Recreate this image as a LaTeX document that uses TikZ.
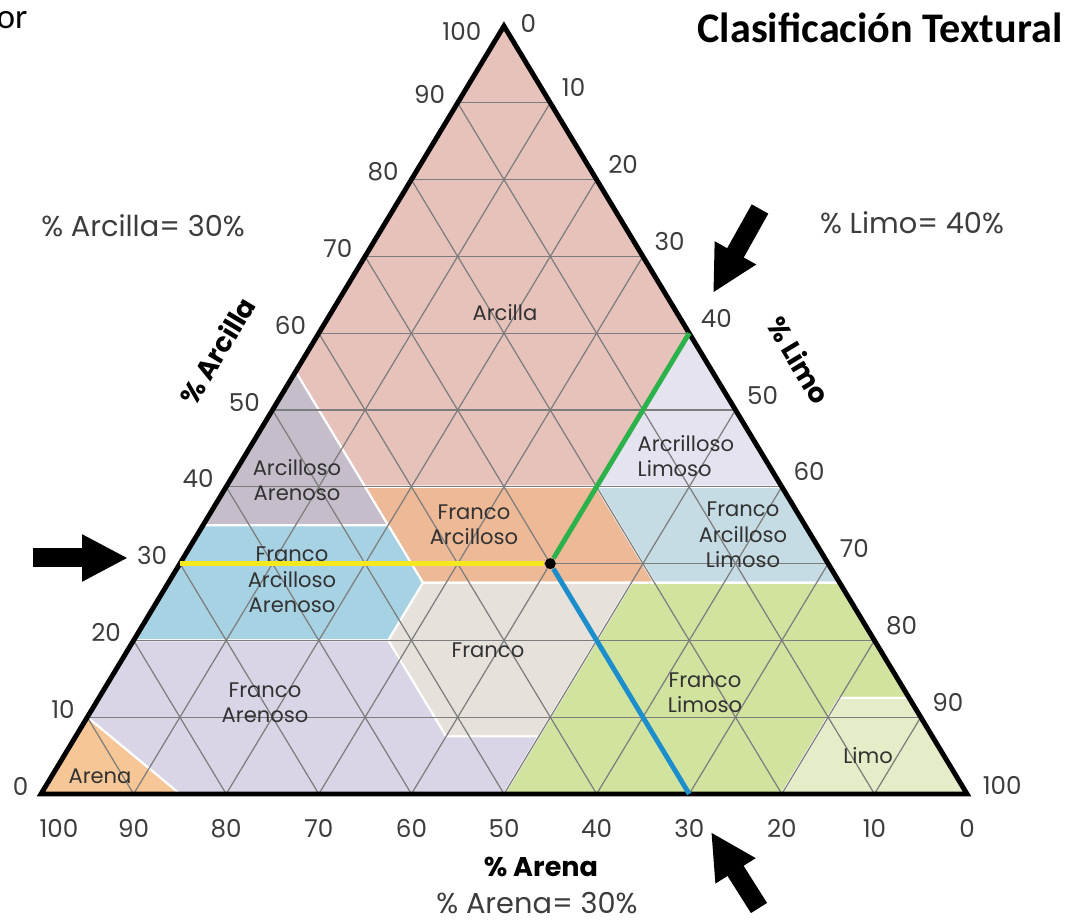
\documentclass[tikz,border=0pt]{standalone}
\usepackage{fontspec}
\setmainfont{Poppins}
\newfontfamily\calibfont{Carlito}
\usetikzlibrary{positioning, calc, arrows.meta}

\definecolor{cArcilla}{RGB}{231,194,186}
\definecolor{cArcAren}{RGB}{198,189,202}
\definecolor{cArcLimo}{RGB}{230,227,241}
\definecolor{cFraArc}{RGB}{237,185,150}
\definecolor{cFraArcAren}{RGB}{166,210,227}
\definecolor{cFraArcLimo}{RGB}{198,220,228}
\definecolor{cFranco}{RGB}{230,225,219}
\definecolor{cFraAren}{RGB}{217,213,231}
\definecolor{cFraLimo}{RGB}{210,227,160}
\definecolor{cLimo}{RGB}{228,236,200}
\definecolor{cArena}{RGB}{246,198,150}
\definecolor{gridgray}{RGB}{125,125,125}
\definecolor{tickgray}{RGB}{60,60,60}
\definecolor{labelgray}{RGB}{50,50,50}
\definecolor{lineyellow}{RGB}{246,232,30}
\definecolor{linegreen}{RGB}{44,178,74}
\definecolor{lineblue}{RGB}{28,142,203}

\begin{document}
\begin{tikzpicture}[
  tick/.style={font=\fontsize{7}{8}\selectfont, text=tickgray, inner sep=0pt},
  axistitle/.style={font=\bfseries\fontsize{7.7}{8}\selectfont, inner sep=0pt},
  note/.style={font=\fontsize{8.2}{9}\selectfont, text=tickgray, inner sep=0pt},
  zone/.style={draw=white, line width=0.6pt},
  zonelabel/.style={font=\fontsize{6}{7.2}\selectfont, text=labelgray, align=center, inner sep=0pt},
  gridline/.style={draw=gridgray, line width=0.35pt},
  edge/.style={line width=1.4pt, line join=miter},
  readline/.style={line width=1.4pt},
  bigarrow/.style={line width=0.19cm, -{Triangle[length=0.46cm,width=0.44cm]}},
  dot/.style={circle, fill=black, inner sep=0pt, minimum size=0.11cm}
]
\useasboundingbox (0,0) rectangle (10.68,9.21);

% triangle: (silt, clay) in percent
\begin{scope}[shift={(0.41,1.27)}, x={(0.0926cm,0cm)}, y={(0.0463cm,0.0768cm)}]
% zones
\filldraw[zone, fill=cArcilla] (0,100) -- (0,55) -- (15,40) -- (40,40) -- (40,60) -- cycle;
\filldraw[zone, fill=cArcLimo] (40,60) -- (40,40) -- (60,40) -- cycle;
\filldraw[zone, fill=cArcAren] (0,55) -- (0,35) -- (20,35) -- cycle;
\filldraw[zone, fill=cFraArc] (15,40) -- (40,40) -- (52.5,27.5) -- (27.5,27.5) -- cycle;
\filldraw[zone, fill=cFraArcLimo] (40,40) -- (60,40) -- (72.5,27.5) -- (52.5,27.5) -- cycle;
\filldraw[zone, fill=cFraArcAren] (0,35) -- (20,35) -- (27.5,27.5) -- (27.5,20) -- (0,20) -- cycle;
\filldraw[zone, fill=cFranco] (27.5,27.5) -- (50,27.5) -- (50,7.5) -- (40,7.5) -- (27.5,20) -- cycle;
\filldraw[zone, fill=cFraAren] (0,10) -- (0,20) -- (27.5,20) -- (40,7.5) -- (50,7.5) -- (50,0) -- (15,0) -- cycle;
\filldraw[zone, fill=cFraLimo] (50,0) -- (50,27.5) -- (72.5,27.5) -- (87.5,12.5) -- (80,12.5) -- (80,0) -- cycle;
\filldraw[zone, fill=cLimo] (80,0) -- (80,12.5) -- (87.5,12.5) -- (100,0) -- cycle;
\filldraw[zone, fill=cArena] (0,0) -- (0,10) -- (15,0) -- cycle;

% grid
\foreach \k in {10,20,...,90} {
  \draw[gridline] (0,\k) -- (100-\k,\k);
  \draw[gridline] (\k,0) -- (\k,100-\k);
  \draw[gridline] (\k,0) -- (0,\k);
}

% border
\draw[edge] (0,0) -- (100,0) -- (0,100) -- cycle;

% edge values
\foreach \c in {0,10,...,90}
  \node[tick, anchor=east, xshift=-0.12cm, yshift=0.08cm] (clay\c) at (0,\c) {\c};
\node[tick, anchor=east, xshift=-0.22cm, yshift=-0.05cm] (clay100) at (0,100) {100};
\foreach \s in {10,20,...,90}
  \node[tick, anchor=west, xshift=0.11cm, yshift=0.15cm] (silt\s) at (\s,100-\s) {\s};
\node[tick, anchor=west, xshift=0.16cm, yshift=0.03cm] (silt0) at (0,100) {0};
\node[tick, anchor=west, xshift=0.15cm, yshift=0.09cm] (silt100) at (100,0) {100};
\foreach \a in {0,10,...,90}
  \node[tick, anchor=north, yshift=-0.25cm] (sand\a) at (100-\a,0) {\a};
\node[tick, anchor=north, xshift=0.18cm, yshift=-0.25cm] (sand100) at (0,0) {100};

% reading at clay 30, silt 40, sand 30
\coordinate (c30) at (0,30);
\coordinate (s40) at (40,60);
\coordinate (a30) at (70,0);
\node[dot] (mix) at (40,30) {};
\draw[readline, lineyellow] (c30) -- (mix);
\draw[readline, linegreen] (mix) -- (s40);
\draw[readline, lineblue] (mix) -- (a30);
\end{scope}

% zone names
\node[zonelabel] (zArcilla) at (5.05,6.08) {Arcilla};
\node[zonelabel] (zArcAren) at (2.97,4.41) {Arcilloso\\Arenoso};
\node[zonelabel, anchor=west, align=left] (zArcLimo) at (6.37,4.65) {Arcrilloso\\Limoso};
\node[zonelabel] (zFraArc) at (4.74,3.96) {Franco\\Arcilloso};
\node[zonelabel] (zFraArcAren) at (2.92,3.41) {Franco\\Arcilloso\\Arenoso};
\node[zonelabel] (zFraArcLimo) at (7.43,3.86) {Franco\\Arcilloso\\Limoso};
\node[zonelabel] (zFranco) at (4.88,2.71) {Franco};
\node[zonelabel] (zFraAren) at (2.65,2.18) {Franco\\Arenoso};
\node[zonelabel] (zFraLimo) at (7.05,2.28) {Franco\\Limoso};
\node[zonelabel] (zLimo) at (8.68,1.65) {Limo};
\node[zonelabel] (zArena) at (1.00,1.45) {Arena};

% axis titles
\node[axistitle, rotate=59] (tArcilla) at (2.17,5.70) {\% Arcilla};
\node[axistitle, rotate=-59] (tLimo) at (7.99,5.61) {\% Limo};
\node[axistitle] (tArena) at (5.41,0.54) {\% Arena};

% values read
\node[note] (vArcilla) at (1.43,6.95) {\% Arcilla= 30\%};
\node[note] (vLimo) at (9.12,6.98) {\% Limo= 40\%};
\node[note] (vArena) at (5.37,0.18) {\% Arena= 30\%};

\node[font=\calibfont\bfseries\fontsize{12}{14}\selectfont, anchor=east, inner sep=0pt] (title) at (10.63,8.93) {Clasificación Textural};
\node[font=\calibfont\fontsize{10}{12}\selectfont, anchor=west, inner sep=0pt] (cut) at (-0.04,9.01) {or};

% arrows
\coordinate (arL0) at (0.33,3.63);
\coordinate (arL1) at (1.28,3.63);
\coordinate (arR0) at (7.60,7.12);
\coordinate (arR1) at (7.13,6.28);
\coordinate (arB0) at (7.59,0.13);
\coordinate (arB1) at (7.11,0.89);
\draw[bigarrow] (arL0) -- (arL1);
\draw[bigarrow] (arR0) -- (arR1);
\draw[bigarrow] (arB0) -- (arB1);
\end{tikzpicture}
\end{document}
